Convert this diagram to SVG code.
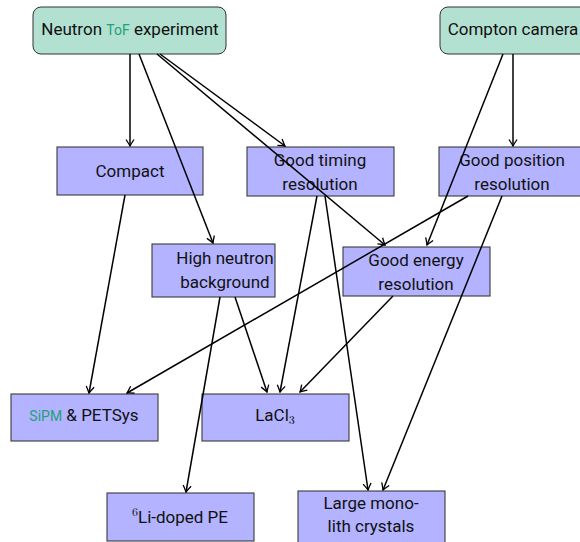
<svg xmlns="http://www.w3.org/2000/svg" width="580" height="542" viewBox="0 0 580 542">
<style>
.t{font-family:Roboto,"Liberation Sans",sans-serif;font-size:17px;fill:#111;text-anchor:middle}
.g{fill:#22a07a;font-size:14px}
.m{font-family:"Latin Modern Roman","DejaVu Serif","Liberation Serif",serif;font-size:12px}
.top{fill:#b2e0d1;stroke:#333;stroke-width:1}
.box{fill:#b3b3ff;stroke:#3a3a3a;stroke-width:1.1}
.c{stroke:#000;stroke-width:1.5;fill:none;marker-end:url(#ah)}
</style>
<defs>
<marker id="ah" viewBox="-8 -5 9 10" refX="0" refY="0" markerWidth="9" markerHeight="10" markerUnits="userSpaceOnUse" orient="auto">
<path d="M-6.5,-4 Q-2,-1 0,0 Q-2,1 -6.5,4" fill="none" stroke="#000" stroke-width="1.3"/>
</marker>
</defs>
<g id="nodes">
<g id="neutron"><rect class="top" x="33" y="7" width="193" height="47" rx="8"/><text class="t" x="130" y="35">Neutron <tspan class="g">ToF</tspan> experiment</text></g>
<g id="compton"><rect class="top" x="440" y="7" width="150" height="47" rx="8"/><text class="t" x="513" y="35">Compton camera</text></g>
<g id="compact"><rect class="box" x="57" y="147" width="146" height="48"/><text class="t" x="130" y="177">Compact</text></g>
<g id="timing"><rect class="box" x="247" y="147" width="147" height="49"/><text class="t" x="320" y="166">Good timing</text><text class="t" x="320" y="190">resolution</text></g>
<g id="position"><rect class="box" x="439" y="147" width="150" height="49"/><text class="t" x="512" y="166">Good position</text><text class="t" x="512" y="190">resolution</text></g>
<g id="background"><rect class="box" x="152" y="244" width="123" height="53"/><text class="t" x="225" y="264">High neutron</text><text class="t" x="225" y="288">background</text></g>
<g id="energy"><rect class="box" x="343" y="247" width="147" height="49"/><text class="t" x="416" y="266">Good energy</text><text class="t" x="416" y="290">resolution</text></g>
<g id="sipm"><rect class="box" x="11" y="394" width="147" height="47"/><text class="t" x="84" y="421"><tspan class="g">SiPM</tspan> &amp; PETSys</text></g>
<g id="lacl"><rect class="box" x="202" y="394" width="147" height="47"/><text class="t" x="275" y="421">LaCl<tspan class="m" dy="3">3</tspan></text></g>
<g id="li"><rect class="box" x="107" y="493" width="147" height="48"/><text class="t" x="180" y="523"><tspan class="m" dy="-7">6</tspan><tspan dy="7">Li-doped PE</tspan></text></g>
<g id="mono"><rect class="box" x="298" y="491" width="147" height="55"/><text class="t" x="371" y="509">Large mono-</text><text class="t" x="371" y="532">lith crystals</text></g>
</g>
<g id="connectors">
<path class="c" d="M130,54 L130,146"/>
<path class="c" d="M139,54 L213,243"/>
<path class="c" d="M160,54 L285,146"/>
<path class="c" d="M157,54 L385,245"/>
<path class="c" d="M513,54 L513,146"/>
<path class="c" d="M503,54 L427,245"/>
<path class="c" d="M125,195 L89,393"/>
<path class="c" d="M468,196 L127,393"/>
<path class="c" d="M235,297 L267,392"/>
<path class="c" d="M220,297 L186,492"/>
<path class="c" d="M317,196 L280,392"/>
<path class="c" d="M325,196 L368,490"/>
<path class="c" d="M393,296 L300,392"/>
<path class="c" d="M502,196 L383,490"/>
</g>
</svg>
